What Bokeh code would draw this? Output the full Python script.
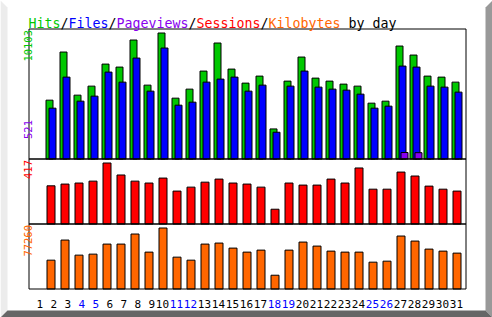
import math
from bokeh.plotting import figure
from bokeh.models import Range1d, ColumnDataSource
from bokeh.transform import dodge
from bokeh.core.properties import value
from bokeh.embed import file_html
from bokeh.resources import INLINE

# ---------------- data ----------------
days = list(range(1, 32))
hits = [0, 4718, 8576, 5120, 5843, 7611, 7370, 9540, 5923, 10103, 4878, 5602, 7049, 9299, 7209,
        6084, 6647, 2411, 6245, 8174, 6486, 6245, 6004, 5843, 4477, 4637, 9058, 8334, 6647, 6566, 6164]
files = [0, 4075, 6566, 4637, 5039, 6968, 6164, 8093, 5441, 8897, 4316, 4557, 6164, 6405, 6566,
         5441, 5923, 2146, 5843, 7049, 5763, 5602, 5521, 5200, 4075, 4236, 7450, 7370, 5843, 5763, 5361]
pages = [0] * 26 + [521, 507, 0, 0, 0]
visits = [0, 261, 273, 280, 293, 417, 335, 293, 280, 314, 225, 252, 286, 307, 280,
          273, 252, 101, 280, 266, 266, 307, 280, 383, 238, 238, 355, 328, 259, 238, 225]
kbytes = [0, 36530, 61986, 42894, 44166, 56894, 56894, 69622, 46712, 77260, 40348, 36530, 56894, 58167, 51803,
          46712, 49257, 17437, 49257, 59440, 54348, 47985, 46712, 46712, 33984, 35257, 67077, 60713, 50530, 47985, 45439]
weekend_days = [4, 5, 11, 12, 18, 19, 25, 26]
title_parts = [("Hits", "hits"), ("/", None), ("Files", "files"), ("/", None),
               ("Pageviews", "pages"), ("/", None), ("Sessions", "visits"), ("/", None),
               ("Kilobytes", "kbytes"), (" by day", None)]

# ---------------- style ----------------
COL = {"hits": "#00c800", "files": "#0000ff", "pages": "#8800ee",
       "visits": "#ff0000", "kbytes": "#ff6600", None: "#000000"}
MONO = value("DejaVu Sans Mono")
W, H = 492, 317
FX0, FX1 = 28.5, 465.5
P_HITS = (28.5, 158.5)
P_VIS = (158.5, 223.5)
P_KB = (223.5, 288.5)
PAD = 4.0
SLOT, X_OFF = 14.0, 17.5


def vrange(vmax, panel):
    top, bottom = panel[0] + PAD, panel[1]
    s = vmax / (bottom - top)
    return Range1d(start=(bottom - H) * s, end=bottom * s)


p = figure(width=W, height=H, x_range=Range1d(0, W), y_range=Range1d(H, 0),
           x_axis_type=None, y_axis_type=None, toolbar_location=None,
           output_backend="svg", min_border=0, outline_line_color=None,
           background_fill_color="white", border_fill_color="white")
p.grid.visible = False
p.extra_x_ranges = {"day": Range1d(-X_OFF / SLOT, (W - X_OFF) / SLOT)}
p.extra_y_ranges = {"hits": vrange(max(hits), P_HITS),
                    "visits": vrange(max(visits), P_VIS),
                    "kb": vrange(max(kbytes), P_KB)}

# bevel border
p.patch([0, 7, 7, 0], [0, 7, H - 7, H], fill_color="#ececec", line_color=None)
p.patch([W, W - 7, W - 7, W], [0, 7, H - 7, H], fill_color="#999999", line_color=None)
p.patch([0, 7, W - 7, W], [H, H - 7, H - 7, H], fill_color="#666666", line_color=None)


def src(vals):
    d = [(dy, v) for dy, v in zip(days, vals) if v > 0]
    return ColumnDataSource(dict(day=[a for a, _ in d], v=[b for _, b in d]))


bar_kw = dict(line_color="black", line_width=1, x_range_name="day")
p.vbar(x=dodge("day", 3.5 / SLOT), top="v", width=7 / SLOT, source=src(hits),
       fill_color=COL["hits"], y_range_name="hits", **bar_kw)
p.vbar(x=dodge("day", 6.5 / SLOT), top="v", width=7 / SLOT, source=src(files),
       fill_color=COL["files"], y_range_name="hits", **bar_kw)
p.vbar(x=dodge("day", 8.5 / SLOT), top="v", width=7 / SLOT, source=src(pages),
       fill_color=COL["pages"], y_range_name="hits", **bar_kw)
p.vbar(x=dodge("day", 5 / SLOT), top="v", width=8 / SLOT, source=src(visits),
       fill_color=COL["visits"], y_range_name="visits", **bar_kw)
p.vbar(x=dodge("day", 5 / SLOT), top="v", width=8 / SLOT, source=src(kbytes),
       fill_color=COL["kbytes"], y_range_name="kb", **bar_kw)

# panel frames
p.quad(left=[FX0] * 3, right=[FX1] * 3, top=[P_HITS[0], P_VIS[0], P_KB[0]],
       bottom=[P_HITS[1], P_VIS[1], P_KB[1]], fill_color=None, line_color="black", line_width=1)

# day labels
lab = ColumnDataSource(dict(day=days, label=[str(d) for d in days],
                            color=["#0000ff" if d in weekend_days else "#000000" for d in days]))
p.text(x=dodge("day", 11 / SLOT), y=303.5, text="label", text_color="color", source=lab,
       text_align="right", text_baseline="alphabetic", text_font=MONO, text_font_size="11px",
       x_range_name="day")

# title
adv = 8.0
pos = 0
for txt, key in title_parts:
    lead = len(txt) - len(txt.lstrip())
    p.text(x=[28 + (pos + lead) * adv], y=[22.5], text=[txt.strip()], text_color=COL[key], text_font=MONO,
           text_font_size="13.3px", text_align="left", text_baseline="alphabetic")
    pos += len(txt)

# max-value labels (rotated)
for txt, key, ytop in [(str(max(hits)), "hits", 29.5), (str(max(pages)), "pages", 119.5),
                       (str(max(visits)), "visits", 159.5), (str(max(kbytes)), "kbytes", 224.5)]:
    p.text(x=[27], y=[ytop], text=[txt], angle=math.pi / 2, text_color=COL[key], text_font=MONO,
           text_font_size="10.5px", text_align="right", text_baseline="alphabetic")

open("out.html", "w").write(file_html(p, INLINE))
